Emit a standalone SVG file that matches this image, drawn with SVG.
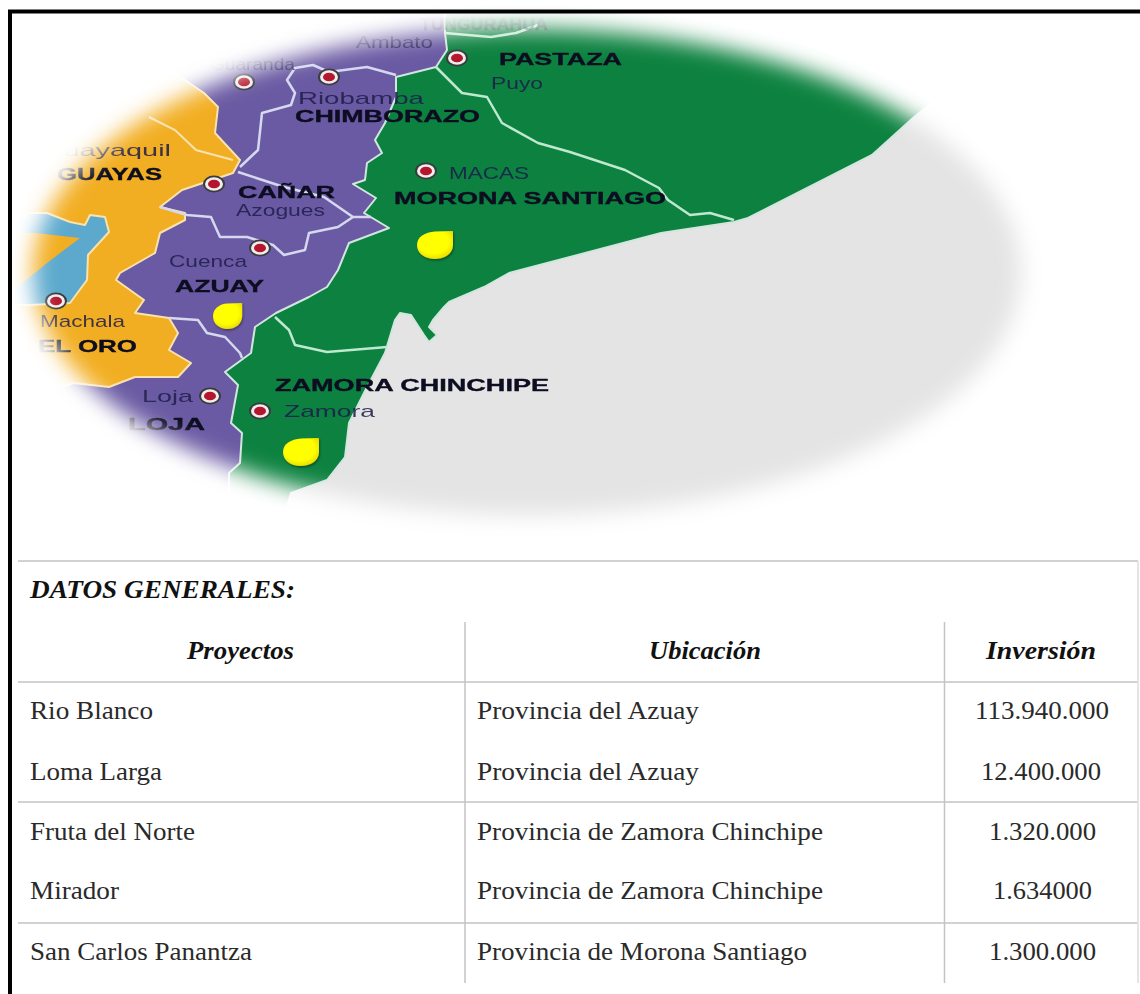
<svg xmlns="http://www.w3.org/2000/svg" width="1140" height="994" viewBox="0 0 1140 994">
<style>
.t{font-family:"Liberation Serif",serif;font-size:25px;fill:#2a2a2a}
.h{font-family:"Liberation Serif",serif;font-size:25px;fill:#111;font-style:italic;font-weight:bold}
.m{font-family:"Liberation Sans",sans-serif;font-size:17px;fill:#1e1c4a;opacity:.85}
.b{font-family:"Liberation Sans",sans-serif;font-size:17px;font-weight:bold;fill:#0c0c20;stroke:#0c0c20;stroke-width:.35}
.r{fill:none;stroke:#d5d8ee;stroke-width:2.5;stroke-linejoin:round}
.g{fill:none;stroke:#bfe8cf;stroke-width:2.5;stroke-linejoin:round}
.l{stroke:#c4c4c4;stroke-width:1.5;fill:none}
</style>
<defs>
<filter id="bl" x="-10%" y="-10%" width="120%" height="120%"><feGaussianBlur stdDeviation="11"/></filter>
<filter id="soft" filterUnits="userSpaceOnUse" x="0" y="0" width="1140" height="560"><feGaussianBlur stdDeviation=".55"/></filter>
<filter id="s" x="-30%" y="-30%" width="160%" height="160%"><feDropShadow dx="1" dy="1.5" stdDeviation="1.2" flood-color="#000" flood-opacity=".4"/></filter>
<radialGradient id="y" cx=".45" cy=".38" r=".68"><stop offset=".62" stop-color="#ffff00"/><stop offset=".9" stop-color="#ece000"/><stop offset="1" stop-color="#c9b400"/></radialGradient>
<mask id="e" maskUnits="userSpaceOnUse" x="0" y="0" width="1140" height="560"><ellipse cx="527" cy="272" rx="494" ry="243" fill="#fff" filter="url(#bl)"/></mask>
<g id="c"><ellipse rx="11" ry="8.5" fill="#3a3a3a"/><ellipse rx="9" ry="6.8" fill="#eee"/><ellipse rx="6" ry="4.3" fill="#b5122e"/></g>
<path id="d" d="M36 0V14C36 23 27 28 18 28C7 28 0 22 0 14C0 6 8 1 18 .5Z" fill="url(#y)" filter="url(#s)"/>
</defs>
<rect width="1140" height="994" fill="#fff"/>
<g id="map" mask="url(#e)">
<g filter="url(#soft)">
<rect x="0" y="0" width="1140" height="560" fill="#e4e4e4"/>
<path d="M0 0H445V33L447 50 436 67 396 77 396 97 385 123 375 140 382 153 367 163 365 180 353 184 376 198 364 213 389 228 349 243 338 270 327 287 309 297 276 313 255 327 251 353 225 372 238 385 231 423 242 433 240 463 229 473 229 530 0 530Z" fill="#6a5aa3"/>
<path d="M445 0V33L447 50 436 67 396 77 396 97 385 123 375 140 382 153 367 163 365 180 353 184 376 198 364 213 389 228 349 243 338 270 327 287 309 297 276 313 255 327 251 353 225 372 238 385 231 423 242 433 240 463 229 473 229 530 280 530 291 493 327 480 345 457 349 423 364 393 385 353 395 320 400 313 411 315 424 335 429 342 437 335 429 327 433 320 444 307 449 302 484 287 509 273 570 257 661 233 734 222 748 218 872 155 913 118 960 80 960 0Z" fill="#078241" stroke="#d3e6de" stroke-width="2" stroke-linejoin="round"/>
<path d="M0 213H47L70 222 85 225 90 215 105 217 109 232 88 255 87 280 70 303 30 305 0 300Z" fill="#5ba9cd"/>
<path d="M0 60 170 70 204 93 218 107 215 133 240 160 233 173 182 190 160 207 185 213 185 220 160 233 155 253 120 273 116 280 144 300 135 313 169 318 178 333 169 350 191 363 178 377 135 377 109 387 73 383 40 395 0 395 0 305 30 305 70 303 87 280 88 255 109 232 105 217 90 215 85 225 70 222 47 213 0 213Z" fill="#f2ae22" stroke="#f8e2ae" stroke-width="2" stroke-linejoin="round"/>
<path d="M0 233 36 233 80 238 47 263 20 285 0 290Z" fill="#f2ae22"/>
<path class="g" d="M436 67 462 93 487 97 502 123 538 143 570 152 625 170 659 188 668 200 690 215 710 213 734 220"/>
<path class="g" d="M445 33 491 37 516 33 538 25"/>
<path class="g" d="M275 317 289 330 295 345 327 352 387 347"/>
<path class="r" d="M240 167 258 150 262 113 291 105 295 93 287 80 295 68 313 65 329 72 367 67 396 75"/>
<path class="r" d="M238 172 284 187 324 197 353 217 371 217"/>
<path class="r" d="M160 207 187 215 211 217 220 237 247 237 273 245 284 255 305 250 309 233 338 227 353 217"/>
<path class="r" d="M169 318 198 320 207 333 225 337 240 353 242 358"/>
<path d="M149 117 175 130 196 150 233 160" fill="none" stroke="#f8e2ae" stroke-width="2"/>
<g id="labels">
<text class="b" x="420" y="30" textLength="128" lengthAdjust="spacingAndGlyphs" opacity=".5">TUNGURAHUA</text>
<text class="m" x="210" y="70" textLength="85" lengthAdjust="spacingAndGlyphs">Guaranda</text>
<text class="b" x="499" y="65" textLength="123" lengthAdjust="spacingAndGlyphs">PASTAZA</text>
<text class="m" x="491" y="89" textLength="52" lengthAdjust="spacingAndGlyphs">Puyo</text>
<text class="m" x="356" y="48" textLength="77" lengthAdjust="spacingAndGlyphs">Ambato</text>
<text class="m" x="298" y="104" textLength="126" lengthAdjust="spacingAndGlyphs">Riobamba</text>
<text class="b" x="295" y="122" textLength="185" lengthAdjust="spacingAndGlyphs">CHIMBORAZO</text>
<text class="m" x="449" y="179" textLength="80" lengthAdjust="spacingAndGlyphs">MACAS</text>
<text class="b" x="394" y="204" textLength="272" lengthAdjust="spacingAndGlyphs">MORONA SANTIAGO</text>
<text class="m" x="41" y="156" textLength="130" lengthAdjust="spacingAndGlyphs">Guayaquil</text>
<text class="b" x="57" y="180" textLength="105" lengthAdjust="spacingAndGlyphs">GUAYAS</text>
<text class="b" x="238" y="198" textLength="97" lengthAdjust="spacingAndGlyphs">CAÑAR</text>
<text class="m" x="236" y="216" textLength="89" lengthAdjust="spacingAndGlyphs">Azogues</text>
<text class="m" x="169" y="267" textLength="78" lengthAdjust="spacingAndGlyphs">Cuenca</text>
<text class="b" x="175" y="292" textLength="89" lengthAdjust="spacingAndGlyphs">AZUAY</text>
<text class="m" x="40" y="327" textLength="85" lengthAdjust="spacingAndGlyphs">Machala</text>
<text class="b" x="38" y="352" textLength="99" lengthAdjust="spacingAndGlyphs">EL ORO</text>
<text class="m" x="142" y="402" textLength="51" lengthAdjust="spacingAndGlyphs">Loja</text>
<text class="b" x="128" y="430" textLength="77" lengthAdjust="spacingAndGlyphs">LOJA</text>
<text class="b" x="275" y="391" textLength="274" lengthAdjust="spacingAndGlyphs">ZAMORA CHINCHIPE</text>
<text class="m" x="284" y="417" textLength="91" lengthAdjust="spacingAndGlyphs">Zamora</text>
</g>
<g id="cities">
<use href="#c" x="457" y="58"/><use href="#c" x="329" y="77"/><use href="#c" x="244" y="82"/><use href="#c" x="426" y="171"/><use href="#c" x="214" y="184"/><use href="#c" x="260" y="248"/><use href="#c" x="56" y="301"/><use href="#c" x="210" y="396"/><use href="#c" x="260" y="411"/>
</g>
</g>
</g>
<g id="drops">
<use href="#d" x="417" y="231"/>
<use href="#d" transform="translate(213 303) scale(.81 .93)"/>
<use href="#d" x="283" y="438"/>
</g>
<g id="frame"><path d="M10 994V11.500H1140" fill="none" stroke="#000" stroke-width="4"/></g>
<g id="table">
<path class="l" d="M18 561H1138M18 682H1138M18 802H1138M18 923H1138M465 622V983M944.500 622V983"/>
<path d="M1138 561V983" fill="none" stroke="#dcdcdc" stroke-width="1.5"/>
<text class="h" x="30" y="598" textLength="265" lengthAdjust="spacingAndGlyphs">DATOS GENERALES:</text>
<text class="h" x="187" y="659" textLength="107" lengthAdjust="spacingAndGlyphs">Proyectos</text>
<text class="h" x="649" y="659" textLength="112" lengthAdjust="spacingAndGlyphs">Ubicación</text>
<text class="h" x="986" y="659" textLength="110" lengthAdjust="spacingAndGlyphs">Inversión</text>
<text class="t" x="30" y="719" textLength="123" lengthAdjust="spacingAndGlyphs">Rio Blanco</text>
<text class="t" x="477" y="719" textLength="222" lengthAdjust="spacingAndGlyphs">Provincia del Azuay</text>
<text class="t" x="975" y="719" textLength="134" lengthAdjust="spacingAndGlyphs">113.940.000</text>
<text class="t" x="30" y="780" textLength="132" lengthAdjust="spacingAndGlyphs">Loma Larga</text>
<text class="t" x="477" y="780" textLength="222" lengthAdjust="spacingAndGlyphs">Provincia del Azuay</text>
<text class="t" x="981" y="780" textLength="120" lengthAdjust="spacingAndGlyphs">12.400.000</text>
<text class="t" x="30" y="840" textLength="165" lengthAdjust="spacingAndGlyphs">Fruta del Norte</text>
<text class="t" x="477" y="840" textLength="346" lengthAdjust="spacingAndGlyphs">Provincia de Zamora Chinchipe</text>
<text class="t" x="989" y="840" textLength="107" lengthAdjust="spacingAndGlyphs">1.320.000</text>
<text class="t" x="30" y="899" textLength="89" lengthAdjust="spacingAndGlyphs">Mirador</text>
<text class="t" x="477" y="899" textLength="346" lengthAdjust="spacingAndGlyphs">Provincia de Zamora Chinchipe</text>
<text class="t" x="993" y="899" textLength="99" lengthAdjust="spacingAndGlyphs">1.634000</text>
<text class="t" x="30" y="960" textLength="222" lengthAdjust="spacingAndGlyphs">San Carlos Panantza</text>
<text class="t" x="477" y="960" textLength="330" lengthAdjust="spacingAndGlyphs">Provincia de Morona Santiago</text>
<text class="t" x="989" y="960" textLength="107" lengthAdjust="spacingAndGlyphs">1.300.000</text>
</g>
</svg>
